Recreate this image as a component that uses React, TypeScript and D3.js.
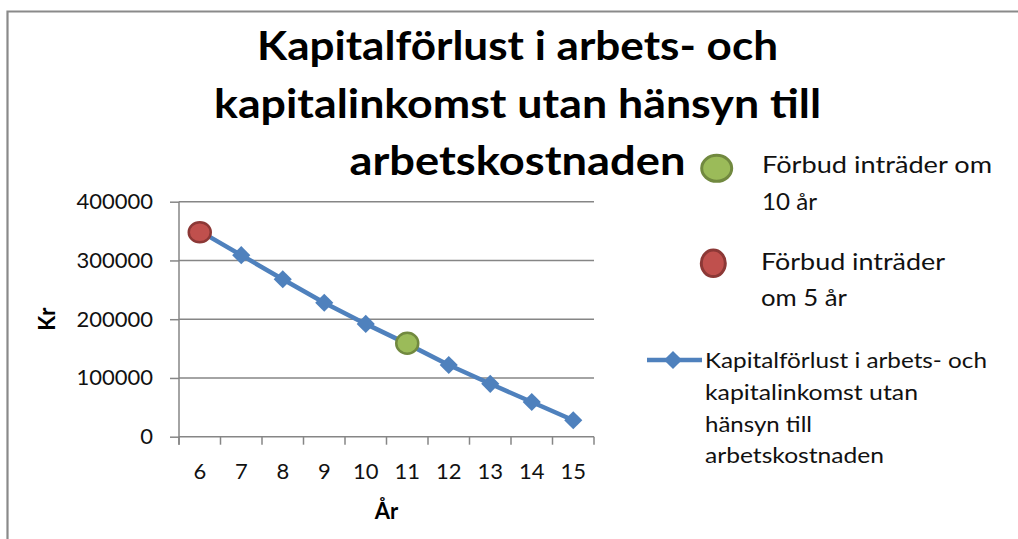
import React, { useRef, useEffect } from "react";
import * as d3 from "d3";

// data
const years = ["6", "7", "8", "9", "10", "11", "12", "13", "14", "15"];
const kapitalforlust = [350000, 309000, 268000, 228000, 192000, 158000, 122000, 90000, 59000, 28000];
const forbud10Years = ["11"];
const forbud10Values = [159000];
const forbud5Years = ["6"];
const forbud5Values = [348000];
const yTicks = [0, 100000, 200000, 300000, 400000];

const titleLines = [
  "Kapitalförlust i arbets- och",
  "kapitalinkomst utan hänsyn till",
  "arbetskostnaden",
];
const titleWidths = [521, 607, 336];
const legend10 = ["Förbud inträder om", "10 år"];
const legend10Widths = [230, 55];
const legend5 = ["Förbud inträder", "om 5 år"];
const legend5Widths = [184, 86];
const legendLine = ["Kapitalförlust i arbets- och", "kapitalinkomst utan", "hänsyn till", "arbetskostnaden"];
const legendLineWidths = [282, 213, 107, 179];

const font = "Lato, 'Open Sans', sans-serif";
const blue = "#4F81BD";
const grey = "#868686";

export default function App() {
  const width = 1018,
    height = 539;
  const plotLeft = 179,
    plotRight = 594,
    plotTop = 201.7,
    plotBottom = 436.7;

  const xAxisRef = useRef<SVGGElement>(null);
  const yAxisRef = useRef<SVGGElement>(null);

  const x = d3.scaleBand().domain(years).range([plotLeft, plotRight]);
  const y = d3.scaleLinear().domain([0, 400000]).range([plotBottom, plotTop]);
  const cx = (c: string) => (x(c) as number) + x.bandwidth() / 2;

  const line = d3
    .line<number>()
    .x((_, i) => cx(years[i]))
    .y(d => y(d));

  const diamond = d3.symbol().type(d3.symbolSquare).size(165)();

  useEffect(() => {
    const yAxis = d3
      .axisLeft(y)
      .tickValues(yTicks)
      .tickFormat(d3.format("d"))
      .tickSize(9)
      .tickPadding(17);
    const xAxis = d3.axisBottom(x).tickSize(0).tickPadding(27);
    const gy = d3.select(yAxisRef.current).call(yAxis as any);
    const gx = d3.select(xAxisRef.current).call(xAxis as any);
    [gy, gx].forEach(g => {
      g.select(".domain").remove();
      g.selectAll("line").attr("stroke", grey).attr("stroke-width", 1.5);
      g.selectAll("text")
        .attr("fill", "#111")
        .style("font-family", font)
        .style("font-size", "22px");
    });
  }, []);

  return (
    <svg
      width={width}
      height={height}
      style={{ position: "absolute", left: 0, top: 0, background: "#fff" }}
    >
      {/* frame */}
      <path d={`M7.5,${height} V11.5 H${width}`} fill="none" stroke="#8a8a8a" strokeWidth={2.2} />

      {/* title */}
      {titleLines.map((t, i) => (
        <text
          key={t}
          x={517.5}
          y={60 + i * 57.5}
          textAnchor="middle"
          textLength={titleWidths[i]}
          lengthAdjust="spacingAndGlyphs"
          style={{ fontFamily: font, fontWeight: 700, fontSize: 40, fill: "#000" }}
        >
          {t}
        </text>
      ))}

      {/* gridlines */}
      {yTicks.map(t => (
        <line key={t} x1={plotLeft} x2={plotRight} y1={y(t)} y2={y(t)} stroke={grey} strokeWidth={1.5} />
      ))}
      <line x1={plotLeft} x2={plotLeft} y1={plotTop} y2={plotBottom + 8} stroke={grey} strokeWidth={1.5} />
      {years.map(c => (
        <line key={c} x1={x(c)} x2={x(c)} y1={plotBottom} y2={plotBottom + 8} stroke={grey} strokeWidth={1.5} />
      ))}
      <line x1={plotRight} x2={plotRight} y1={plotBottom} y2={plotBottom + 8} stroke={grey} strokeWidth={1.5} />

      <g ref={yAxisRef} transform={`translate(${plotLeft},0)`} />
      <g ref={xAxisRef} transform={`translate(0,${plotBottom})`} />

      <text
        transform={`translate(55, ${(plotTop + plotBottom) / 2}) rotate(-90)`}
        textAnchor="middle"
        style={{ fontFamily: font, fontWeight: 700, fontSize: 22, fill: "#000" }}
      >
        Kr
      </text>
      <text
        x={(plotLeft + plotRight) / 2}
        y={518.5}
        textAnchor="middle"
        style={{ fontFamily: font, fontWeight: 700, fontSize: 22, fill: "#000" }}
      >
        År
      </text>

      {/* series */}
      <path d={line(kapitalforlust) || ""} fill="none" stroke={blue} strokeWidth={4.5} strokeLinejoin="round" />
      {kapitalforlust.map((v, i) => (
        <path key={i} d={diamond || ""} transform={`translate(${cx(years[i])},${y(v)}) rotate(45)`} fill={blue} />
      ))}
      {forbud5Values.map((v, i) => (
        <ellipse key={i} cx={cx(forbud5Years[i])} cy={y(v)} rx={11} ry={10} fill="#C0504D" stroke="#8C3836" strokeWidth={2.5} />
      ))}
      {forbud10Values.map((v, i) => (
        <ellipse key={i} cx={cx(forbud10Years[i])} cy={y(v)} rx={11} ry={10.5} fill="#9BBB59" stroke="#71893F" strokeWidth={2.5} />
      ))}

      {/* legend */}
      <ellipse cx={716.7} cy={168.3} rx={15} ry={13} fill="#9BBB59" stroke="#71893F" strokeWidth={3} />
      {legend10.map((t, i) => (
        <text
          key={t}
          x={762}
          y={173.3 + i * 36.7}
          textLength={legend10Widths[i]}
          lengthAdjust="spacingAndGlyphs"
          style={{ fontFamily: font, fontSize: 24, fill: "#111" }}
        >
          {t}
        </text>
      ))}
      <ellipse cx={713.3} cy={263.3} rx={12} ry={13.3} fill="#C0504D" stroke="#8C3836" strokeWidth={3} />
      {legend5.map((t, i) => (
        <text
          key={t}
          x={761}
          y={270 + i * 35.7}
          textLength={legend5Widths[i]}
          lengthAdjust="spacingAndGlyphs"
          style={{ fontFamily: font, fontSize: 24, fill: "#111" }}
        >
          {t}
        </text>
      ))}
      <line x1={647} x2={702} y1={360} y2={360} stroke={blue} strokeWidth={4.5} />
      <path d={diamond || ""} transform="translate(673,360) rotate(45)" fill={blue} />
      {legendLine.map((t, i) => (
        <text
          key={t}
          x={705}
          y={367.7 + i * 31.9}
          textLength={legendLineWidths[i]}
          lengthAdjust="spacingAndGlyphs"
          style={{ fontFamily: font, fontSize: 22, fill: "#111" }}
        >
          {t}
        </text>
      ))}
    </svg>
  );
}
